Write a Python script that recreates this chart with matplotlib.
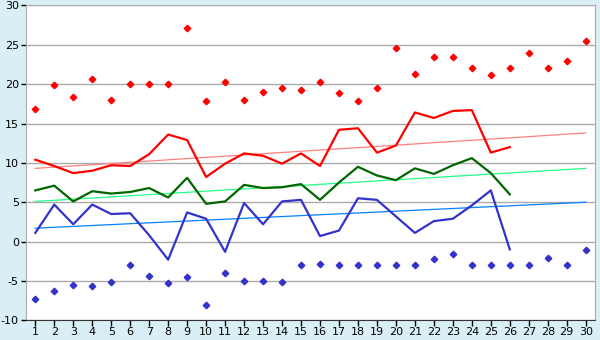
import matplotlib
matplotlib.use("Agg")
import matplotlib.pyplot as plt
import numpy as np

plt.rcParams["axes.unicode_minus"] = False

# Days of the month
days = np.arange(1, 31)
line_days = np.arange(1, 27)

# Monthly extremes (diamonds)
max_extreme = [16.9, 19.9, 18.4, 20.7, 18.0, 20.0, 20.0, 20.0, 27.1, 17.8,
               20.3, 18.0, 19.0, 19.5, 19.3, 20.3, 18.9, 17.9, 19.5, 24.6,
               21.3, 23.4, 23.4, 22.0, 21.1, 22.0, 24.0, 22.0, 23.0, 25.5]
min_extreme = [-7.3, -6.3, -5.5, -5.7, -5.2, -3.0, -4.4, -5.3, -4.5, -8.1,
               -4.0, -5.0, -5.0, -5.2, -3.0, -2.9, -3.0, -3.0, -3.0, -3.0,
               -3.0, -2.2, -1.6, -3.0, -3.0, -3.0, -3.0, -2.1, -3.0, -1.1]

# Daily values for the current month
max_temp = [10.4, 9.6, 8.7, 9.0, 9.7, 9.6, 11.1, 13.6, 12.9, 8.2,
            9.9, 11.2, 10.9, 9.9, 11.2, 9.6, 14.2, 14.4, 11.3, 12.2,
            16.4, 15.7, 16.6, 16.7, 11.3, 12.0]
mean_temp = [6.5, 7.1, 5.1, 6.4, 6.1, 6.3, 6.8, 5.6, 8.1, 4.8,
             5.1, 7.2, 6.8, 6.9, 7.3, 5.3, 7.5, 9.5, 8.4, 7.8,
             9.3, 8.6, 9.7, 10.6, 8.7, 6.0]
min_temp = [1.1, 4.7, 2.2, 4.7, 3.5, 3.6, 0.8, -2.3, 3.7, 2.9,
            -1.3, 4.9, 2.2, 5.1, 5.3, 0.7, 1.4, 5.5, 5.3, 3.2,
            1.1, 2.6, 2.9, 4.6, 6.5, -1.0]

# Normal (trend) lines, start and end of month
trend_days = [1, 30]
trend_max = [9.3, 13.8]
trend_mean = [5.1, 9.3]
trend_min = [1.7, 5.0]

fig = plt.figure(figsize=(6, 3.4), dpi=100)
fig.patch.set_facecolor("#daeff5")
ax = fig.add_axes([0.043, 0.058, 0.949, 0.926])
ax.set_facecolor("white")

ax.plot(trend_days, trend_max, color="#ff8080", lw=0.9, zorder=2)
ax.plot(trend_days, trend_mean, color="#22ff88", lw=0.9, zorder=2)
ax.plot(trend_days, trend_min, color="#0080ff", lw=0.9, zorder=2)

ax.plot(line_days, max_temp, color="#ff0000", lw=1.6, zorder=3)
ax.plot(line_days, mean_temp, color="#006600", lw=1.6, zorder=3)
ax.plot(line_days, min_temp, color="#3333cc", lw=1.6, zorder=3)

ax.plot(days, max_extreme, ls="none", marker="D", ms=3.3, color="#ff0000", zorder=4)
ax.plot(days, min_extreme, ls="none", marker="D", ms=3.3, color="#3333cc", zorder=4)

ax.set_xlim(0.5, 30.5)
ax.set_ylim(-10, 30)
ax.set_xticks(days)
ax.set_yticks(np.arange(-10, 31, 5))
ax.yaxis.grid(True, color="#aaaaaa", lw=1)
ax.set_axisbelow(True)

for s in ["top", "right", "left"]:
    ax.spines[s].set_color("#aaaaaa")
ax.spines["bottom"].set_color("#333333")
ax.tick_params(axis="x", length=4, width=1, labelsize=8, pad=1)
ax.tick_params(axis="y", length=3.5, width=1, labelsize=8, pad=1.5)

plt.savefig("out.png", dpi=100, facecolor=fig.get_facecolor())
plt.close()
